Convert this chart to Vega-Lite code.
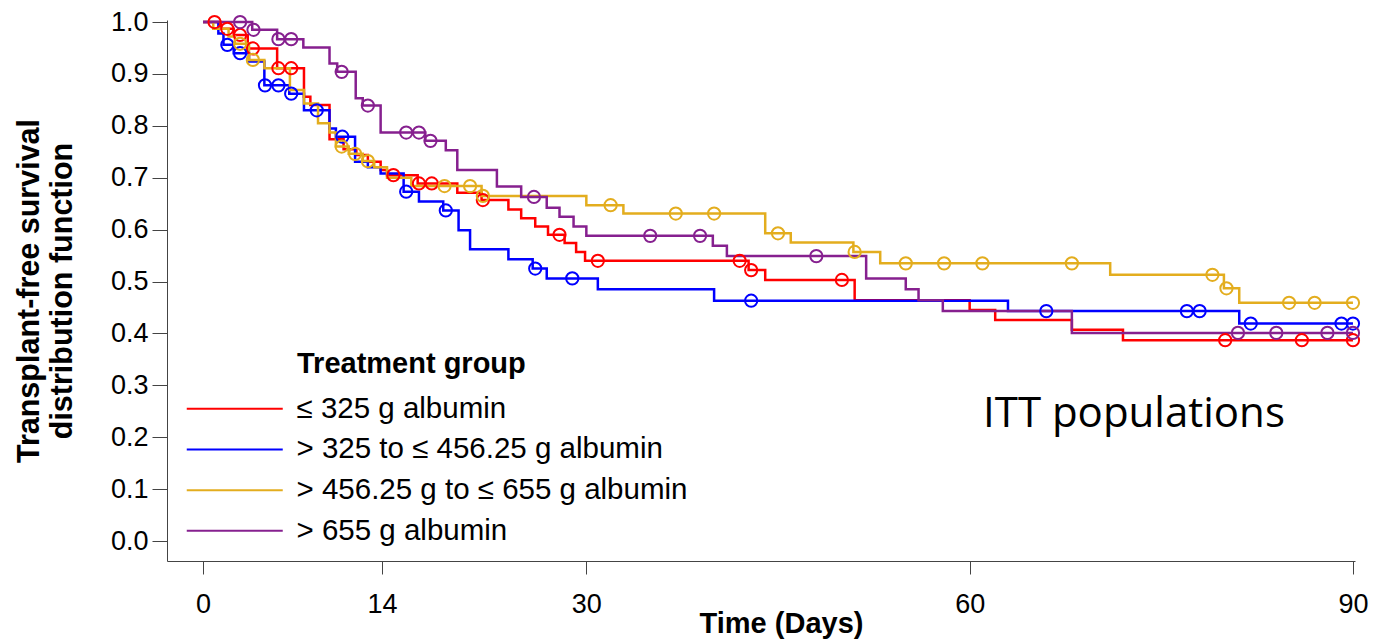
{
  "$schema": "https://vega.github.io/schema/vega-lite/v6.json",
  "width": 1188,
  "height": 541,
  "autosize": {"type": "none"},
  "padding": {"left": 167, "top": 20, "right": 20, "bottom": 83},
  "background": "white",
  "config": {"view": {"stroke": null}},
  "datasets": {
    "km": [
      {"group": "≤ 325 g albumin", "day": 0, "surv": 1.0},
      {"group": "≤ 325 g albumin", "day": 1.4, "surv": 0.987},
      {"group": "≤ 325 g albumin", "day": 2.4, "surv": 0.975},
      {"group": "≤ 325 g albumin", "day": 3.5, "surv": 0.949},
      {"group": "≤ 325 g albumin", "day": 5.8, "surv": 0.911},
      {"group": "≤ 325 g albumin", "day": 7.9, "surv": 0.856},
      {"group": "≤ 325 g albumin", "day": 8.4, "surv": 0.840},
      {"group": "≤ 325 g albumin", "day": 9.9, "surv": 0.774},
      {"group": "≤ 325 g albumin", "day": 11.0, "surv": 0.755},
      {"group": "≤ 325 g albumin", "day": 12.0, "surv": 0.744},
      {"group": "≤ 325 g albumin", "day": 12.9, "surv": 0.731},
      {"group": "≤ 325 g albumin", "day": 13.9, "surv": 0.715},
      {"group": "≤ 325 g albumin", "day": 14.4, "surv": 0.705},
      {"group": "≤ 325 g albumin", "day": 16.8, "surv": 0.689},
      {"group": "≤ 325 g albumin", "day": 19.9, "surv": 0.671},
      {"group": "≤ 325 g albumin", "day": 21.8, "surv": 0.657},
      {"group": "≤ 325 g albumin", "day": 23.9, "surv": 0.639},
      {"group": "≤ 325 g albumin", "day": 24.9, "surv": 0.622},
      {"group": "≤ 325 g albumin", "day": 26.0, "surv": 0.606},
      {"group": "≤ 325 g albumin", "day": 27.0, "surv": 0.590},
      {"group": "≤ 325 g albumin", "day": 28.3, "surv": 0.574},
      {"group": "≤ 325 g albumin", "day": 29.2, "surv": 0.557},
      {"group": "≤ 325 g albumin", "day": 29.9, "surv": 0.540},
      {"group": "≤ 325 g albumin", "day": 42.7, "surv": 0.522},
      {"group": "≤ 325 g albumin", "day": 44.0, "surv": 0.503},
      {"group": "≤ 325 g albumin", "day": 51.0, "surv": 0.464},
      {"group": "≤ 325 g albumin", "day": 60.0, "surv": 0.445},
      {"group": "≤ 325 g albumin", "day": 62.0, "surv": 0.426},
      {"group": "≤ 325 g albumin", "day": 68.0, "surv": 0.407},
      {"group": "≤ 325 g albumin", "day": 72.0, "surv": 0.387},
      {"group": "≤ 325 g albumin", "day": 90.0, "surv": 0.387},

      {"group": "> 325 to ≤ 456.25 g albumin", "day": 0, "surv": 1.0},
      {"group": "> 325 to ≤ 456.25 g albumin", "day": 1.2, "surv": 0.978},
      {"group": "> 325 to ≤ 456.25 g albumin", "day": 1.6, "surv": 0.956},
      {"group": "> 325 to ≤ 456.25 g albumin", "day": 2.4, "surv": 0.940},
      {"group": "> 325 to ≤ 456.25 g albumin", "day": 3.6, "surv": 0.924},
      {"group": "> 325 to ≤ 456.25 g albumin", "day": 4.8, "surv": 0.878},
      {"group": "> 325 to ≤ 456.25 g albumin", "day": 6.75, "surv": 0.862},
      {"group": "> 325 to ≤ 456.25 g albumin", "day": 7.9, "surv": 0.830},
      {"group": "> 325 to ≤ 456.25 g albumin", "day": 9.9, "surv": 0.795},
      {"group": "> 325 to ≤ 456.25 g albumin", "day": 10.4, "surv": 0.779},
      {"group": "> 325 to ≤ 456.25 g albumin", "day": 11.9, "surv": 0.731},
      {"group": "> 325 to ≤ 456.25 g albumin", "day": 12.9, "surv": 0.720},
      {"group": "> 325 to ≤ 456.25 g albumin", "day": 13.9, "surv": 0.708},
      {"group": "> 325 to ≤ 456.25 g albumin", "day": 15.7, "surv": 0.673},
      {"group": "> 325 to ≤ 456.25 g albumin", "day": 16.9, "surv": 0.654},
      {"group": "> 325 to ≤ 456.25 g albumin", "day": 18.8, "surv": 0.637},
      {"group": "> 325 to ≤ 456.25 g albumin", "day": 20.0, "surv": 0.599},
      {"group": "> 325 to ≤ 456.25 g albumin", "day": 20.9, "surv": 0.562},
      {"group": "> 325 to ≤ 456.25 g albumin", "day": 23.9, "surv": 0.543},
      {"group": "> 325 to ≤ 456.25 g albumin", "day": 25.8, "surv": 0.525},
      {"group": "> 325 to ≤ 456.25 g albumin", "day": 26.9, "surv": 0.506},
      {"group": "> 325 to ≤ 456.25 g albumin", "day": 30.9, "surv": 0.485},
      {"group": "> 325 to ≤ 456.25 g albumin", "day": 40.0, "surv": 0.463},
      {"group": "> 325 to ≤ 456.25 g albumin", "day": 63.0, "surv": 0.443},
      {"group": "> 325 to ≤ 456.25 g albumin", "day": 81.1, "surv": 0.419},
      {"group": "> 325 to ≤ 456.25 g albumin", "day": 90.0, "surv": 0.419},

      {"group": "> 456.25 g to ≤ 655 g albumin", "day": 0, "surv": 1.0},
      {"group": "> 456.25 g to ≤ 655 g albumin", "day": 0.8, "surv": 0.987},
      {"group": "> 456.25 g to ≤ 655 g albumin", "day": 2.0, "surv": 0.972},
      {"group": "> 456.25 g to ≤ 655 g albumin", "day": 2.5, "surv": 0.958},
      {"group": "> 456.25 g to ≤ 655 g albumin", "day": 3.6, "surv": 0.927},
      {"group": "> 456.25 g to ≤ 655 g albumin", "day": 4.8, "surv": 0.911},
      {"group": "> 456.25 g to ≤ 655 g albumin", "day": 6.8, "surv": 0.869},
      {"group": "> 456.25 g to ≤ 655 g albumin", "day": 7.9, "surv": 0.843},
      {"group": "> 456.25 g to ≤ 655 g albumin", "day": 9.0, "surv": 0.805},
      {"group": "> 456.25 g to ≤ 655 g albumin", "day": 9.9, "surv": 0.787},
      {"group": "> 456.25 g to ≤ 655 g albumin", "day": 10.4, "surv": 0.760},
      {"group": "> 456.25 g to ≤ 655 g albumin", "day": 11.4, "surv": 0.746},
      {"group": "> 456.25 g to ≤ 655 g albumin", "day": 12.5, "surv": 0.732},
      {"group": "> 456.25 g to ≤ 655 g albumin", "day": 13.4, "surv": 0.720},
      {"group": "> 456.25 g to ≤ 655 g albumin", "day": 14.4, "surv": 0.700},
      {"group": "> 456.25 g to ≤ 655 g albumin", "day": 16.3, "surv": 0.684},
      {"group": "> 456.25 g to ≤ 655 g albumin", "day": 21.8, "surv": 0.665},
      {"group": "> 456.25 g to ≤ 655 g albumin", "day": 30.0, "surv": 0.647},
      {"group": "> 456.25 g to ≤ 655 g albumin", "day": 32.9, "surv": 0.631},
      {"group": "> 456.25 g to ≤ 655 g albumin", "day": 44.0, "surv": 0.593},
      {"group": "> 456.25 g to ≤ 655 g albumin", "day": 46.0, "surv": 0.575},
      {"group": "> 456.25 g to ≤ 655 g albumin", "day": 50.9, "surv": 0.557},
      {"group": "> 456.25 g to ≤ 655 g albumin", "day": 53.0, "surv": 0.535},
      {"group": "> 456.25 g to ≤ 655 g albumin", "day": 71.0, "surv": 0.513},
      {"group": "> 456.25 g to ≤ 655 g albumin", "day": 79.9, "surv": 0.487},
      {"group": "> 456.25 g to ≤ 655 g albumin", "day": 81.1, "surv": 0.459},
      {"group": "> 456.25 g to ≤ 655 g albumin", "day": 90.0, "surv": 0.459},

      {"group": "> 655 g albumin", "day": 0, "surv": 1.0},
      {"group": "> 655 g albumin", "day": 3.85, "surv": 0.985},
      {"group": "> 655 g albumin", "day": 5.8, "surv": 0.967},
      {"group": "> 655 g albumin", "day": 7.85, "surv": 0.951},
      {"group": "> 655 g albumin", "day": 9.9, "surv": 0.920},
      {"group": "> 655 g albumin", "day": 10.5, "surv": 0.904},
      {"group": "> 655 g albumin", "day": 11.95, "surv": 0.853},
      {"group": "> 655 g albumin", "day": 12.5, "surv": 0.839},
      {"group": "> 655 g albumin", "day": 13.9, "surv": 0.787},
      {"group": "> 655 g albumin", "day": 17.4, "surv": 0.771},
      {"group": "> 655 g albumin", "day": 19.0, "surv": 0.753},
      {"group": "> 655 g albumin", "day": 19.9, "surv": 0.715},
      {"group": "> 655 g albumin", "day": 23.0, "surv": 0.683},
      {"group": "> 655 g albumin", "day": 24.9, "surv": 0.663},
      {"group": "> 655 g albumin", "day": 26.9, "surv": 0.642},
      {"group": "> 655 g albumin", "day": 27.9, "surv": 0.625},
      {"group": "> 655 g albumin", "day": 29.0, "surv": 0.606},
      {"group": "> 655 g albumin", "day": 30.0, "surv": 0.588},
      {"group": "> 655 g albumin", "day": 39.9, "surv": 0.569},
      {"group": "> 655 g albumin", "day": 41.0, "surv": 0.549},
      {"group": "> 655 g albumin", "day": 51.9, "surv": 0.506},
      {"group": "> 655 g albumin", "day": 55.0, "surv": 0.485},
      {"group": "> 655 g albumin", "day": 56.0, "surv": 0.464},
      {"group": "> 655 g albumin", "day": 57.9, "surv": 0.443},
      {"group": "> 655 g albumin", "day": 68.0, "surv": 0.401},
      {"group": "> 655 g albumin", "day": 90.0, "surv": 0.401}
    ],
    "cens": [
      {"group": "≤ 325 g albumin", "day": 0.9, "surv": 1.0},
      {"group": "≤ 325 g albumin", "day": 1.9, "surv": 0.987},
      {"group": "≤ 325 g albumin", "day": 2.9, "surv": 0.975},
      {"group": "≤ 325 g albumin", "day": 3.9, "surv": 0.949},
      {"group": "≤ 325 g albumin", "day": 5.9, "surv": 0.911},
      {"group": "≤ 325 g albumin", "day": 6.9, "surv": 0.911},
      {"group": "≤ 325 g albumin", "day": 14.9, "surv": 0.705},
      {"group": "≤ 325 g albumin", "day": 16.9, "surv": 0.689},
      {"group": "≤ 325 g albumin", "day": 17.9, "surv": 0.689},
      {"group": "≤ 325 g albumin", "day": 21.9, "surv": 0.657},
      {"group": "≤ 325 g albumin", "day": 27.9, "surv": 0.590},
      {"group": "≤ 325 g albumin", "day": 30.9, "surv": 0.540},
      {"group": "≤ 325 g albumin", "day": 42.0, "surv": 0.540},
      {"group": "≤ 325 g albumin", "day": 42.9, "surv": 0.522},
      {"group": "≤ 325 g albumin", "day": 50.0, "surv": 0.503},
      {"group": "≤ 325 g albumin", "day": 80.0, "surv": 0.387},
      {"group": "≤ 325 g albumin", "day": 86.0, "surv": 0.387},
      {"group": "≤ 325 g albumin", "day": 90.0, "surv": 0.387},

      {"group": "> 325 to ≤ 456.25 g albumin", "day": 1.9, "surv": 0.956},
      {"group": "> 325 to ≤ 456.25 g albumin", "day": 2.9, "surv": 0.940},
      {"group": "> 325 to ≤ 456.25 g albumin", "day": 4.85, "surv": 0.878},
      {"group": "> 325 to ≤ 456.25 g albumin", "day": 5.9, "surv": 0.878},
      {"group": "> 325 to ≤ 456.25 g albumin", "day": 6.9, "surv": 0.862},
      {"group": "> 325 to ≤ 456.25 g albumin", "day": 8.9, "surv": 0.830},
      {"group": "> 325 to ≤ 456.25 g albumin", "day": 10.9, "surv": 0.779},
      {"group": "> 325 to ≤ 456.25 g albumin", "day": 15.9, "surv": 0.673},
      {"group": "> 325 to ≤ 456.25 g albumin", "day": 19.0, "surv": 0.637},
      {"group": "> 325 to ≤ 456.25 g albumin", "day": 26.0, "surv": 0.525},
      {"group": "> 325 to ≤ 456.25 g albumin", "day": 28.9, "surv": 0.506},
      {"group": "> 325 to ≤ 456.25 g albumin", "day": 42.9, "surv": 0.463},
      {"group": "> 325 to ≤ 456.25 g albumin", "day": 66.0, "surv": 0.443},
      {"group": "> 325 to ≤ 456.25 g albumin", "day": 77.0, "surv": 0.443},
      {"group": "> 325 to ≤ 456.25 g albumin", "day": 78.0, "surv": 0.443},
      {"group": "> 325 to ≤ 456.25 g albumin", "day": 82.0, "surv": 0.419},
      {"group": "> 325 to ≤ 456.25 g albumin", "day": 89.1, "surv": 0.419},
      {"group": "> 325 to ≤ 456.25 g albumin", "day": 90.0, "surv": 0.419},

      {"group": "> 456.25 g to ≤ 655 g albumin", "day": 2.9, "surv": 0.958},
      {"group": "> 456.25 g to ≤ 655 g albumin", "day": 3.9, "surv": 0.927},
      {"group": "> 456.25 g to ≤ 655 g albumin", "day": 10.85, "surv": 0.760},
      {"group": "> 456.25 g to ≤ 655 g albumin", "day": 11.9, "surv": 0.746},
      {"group": "> 456.25 g to ≤ 655 g albumin", "day": 12.9, "surv": 0.732},
      {"group": "> 456.25 g to ≤ 655 g albumin", "day": 18.9, "surv": 0.684},
      {"group": "> 456.25 g to ≤ 655 g albumin", "day": 20.9, "surv": 0.684},
      {"group": "> 456.25 g to ≤ 655 g albumin", "day": 21.9, "surv": 0.665},
      {"group": "> 456.25 g to ≤ 655 g albumin", "day": 31.9, "surv": 0.647},
      {"group": "> 456.25 g to ≤ 655 g albumin", "day": 37.0, "surv": 0.631},
      {"group": "> 456.25 g to ≤ 655 g albumin", "day": 40.0, "surv": 0.631},
      {"group": "> 456.25 g to ≤ 655 g albumin", "day": 45.0, "surv": 0.593},
      {"group": "> 456.25 g to ≤ 655 g albumin", "day": 51.0, "surv": 0.557},
      {"group": "> 456.25 g to ≤ 655 g albumin", "day": 55.0, "surv": 0.535},
      {"group": "> 456.25 g to ≤ 655 g albumin", "day": 58.0, "surv": 0.535},
      {"group": "> 456.25 g to ≤ 655 g albumin", "day": 61.0, "surv": 0.535},
      {"group": "> 456.25 g to ≤ 655 g albumin", "day": 68.0, "surv": 0.535},
      {"group": "> 456.25 g to ≤ 655 g albumin", "day": 79.0, "surv": 0.513},
      {"group": "> 456.25 g to ≤ 655 g albumin", "day": 80.1, "surv": 0.487},
      {"group": "> 456.25 g to ≤ 655 g albumin", "day": 85.0, "surv": 0.459},
      {"group": "> 456.25 g to ≤ 655 g albumin", "day": 87.0, "surv": 0.459},
      {"group": "> 456.25 g to ≤ 655 g albumin", "day": 90.0, "surv": 0.459},

      {"group": "> 655 g albumin", "day": 2.9, "surv": 1.0},
      {"group": "> 655 g albumin", "day": 3.95, "surv": 0.985},
      {"group": "> 655 g albumin", "day": 5.9, "surv": 0.967},
      {"group": "> 655 g albumin", "day": 6.9, "surv": 0.967},
      {"group": "> 655 g albumin", "day": 10.85, "surv": 0.904},
      {"group": "> 655 g albumin", "day": 12.9, "surv": 0.839},
      {"group": "> 655 g albumin", "day": 15.9, "surv": 0.787},
      {"group": "> 655 g albumin", "day": 16.9, "surv": 0.787},
      {"group": "> 655 g albumin", "day": 17.8, "surv": 0.771},
      {"group": "> 655 g albumin", "day": 25.9, "surv": 0.663},
      {"group": "> 655 g albumin", "day": 35.0, "surv": 0.588},
      {"group": "> 655 g albumin", "day": 38.9, "surv": 0.588},
      {"group": "> 655 g albumin", "day": 48.0, "surv": 0.549},
      {"group": "> 655 g albumin", "day": 81.0, "surv": 0.401},
      {"group": "> 655 g albumin", "day": 84.0, "surv": 0.401},
      {"group": "> 655 g albumin", "day": 88.0, "surv": 0.401},
      {"group": "> 655 g albumin", "day": 90.0, "surv": 0.401}
    ]
  },
  "layer": [
    {
      "data": {"name": "km"},
      "mark": {"type": "line", "interpolate": "step-after", "strokeWidth": 2.5},
      "encoding": {
        "x": {
          "field": "day", "type": "quantitative",
          "scale": {"domain": [-2.82, 90.16], "nice": false, "zero": false},
          "axis": {
            "values": [0, 14, 30, 60, 90],
            "grid": false,
            "domainColor": "#444", "tickColor": "#444",
            "tickSize": 13, "domainWidth": 1, "tickWidth": 1,
            "labelFont": "Liberation Sans",
            "labelFontSize": 27, "labelColor": "black", "labelPadding": 17,
            "labelFlush": false,
            "title": "Time (Days)",
            "titleFont": "Liberation Sans",
            "titleFontSize": 29, "titleFontWeight": "bold", "titleColor": "black",
            "titleX": 614, "titleY": 62, "titleBaseline": "middle", "titleAlign": "center"
          }
        },
        "y": {
          "field": "surv", "type": "quantitative",
          "scale": {"domain": [-0.0385, 1.0039], "nice": false, "zero": false},
          "axis": {
            "values": [0, 0.1, 0.2, 0.3, 0.4, 0.5, 0.6, 0.7, 0.8, 0.9, 1.0],
            "format": ".1f",
            "grid": false,
            "domainColor": "#444", "tickColor": "#444",
            "tickSize": 15, "domainWidth": 1, "tickWidth": 1,
            "labelFont": "Liberation Sans", "labelFontSize": 27, "labelColor": "black",
            "labelPadding": 4,
            "title": ["Transplant-free survival", "distribution function"],
            "titleFont": "Liberation Sans", "titleFontSize": 30.5, "titleFontWeight": "bold",
            "titleColor": "black", "titleLineHeight": 33, "titlePadding": 33
          }
        },
        "color": {
          "field": "group", "type": "nominal",
          "scale": {
            "domain": ["≤ 325 g albumin", "> 325 to ≤ 456.25 g albumin", "> 456.25 g to ≤ 655 g albumin", "> 655 g albumin"],
            "range": ["#ff0000", "#0000ff", "#e3ad1e", "#86208f"]
          },
          "legend": {
            "orient": "none", "legendX": 130, "legendY": 330,
            "padding": 0,
            "title": "Treatment group", "titleLimit": 800,
            "titleFont": "Liberation Sans", "titleFontSize": 29, "titleFontWeight": "bold", "titleColor": "black",
            "titlePadding": 15,
            "labelFont": "Liberation Sans", "labelFontSize": 29.5, "labelColor": "black",
            "labelOffset": 47, "labelLimit": 800,
            "symbolType": "M-48,0H48", "symbolSize": 4, "symbolStrokeWidth": 2,
            "symbolOffset": -77,
            "rowPadding": 9.7
          }
        }
      }
    },
    {
      "data": {"name": "cens"},
      "mark": {"type": "point", "shape": "circle", "filled": false, "size": 150, "strokeWidth": 2, "opacity": 1},
      "encoding": {
        "x": {"field": "day", "type": "quantitative"},
        "y": {"field": "surv", "type": "quantitative"},
        "stroke": {
          "field": "group", "type": "nominal",
          "scale": {
            "domain": ["≤ 325 g albumin", "> 325 to ≤ 456.25 g albumin", "> 456.25 g to ≤ 655 g albumin", "> 655 g albumin"],
            "range": ["#ff0000", "#0000ff", "#e3ad1e", "#86208f"]
          },
          "legend": null
        }
      }
    },
    {
      "data": {"values": [{}]},
      "mark": {"type": "text", "font": "Open Sans", "fontSize": 42, "align": "center", "baseline": "alphabetic", "color": "black"},
      "encoding": {
        "x": {"datum": 72.86},
        "y": {"datum": 0.2197},
        "text": {"value": "ITT populations"}
      }
    }
  ]
}
